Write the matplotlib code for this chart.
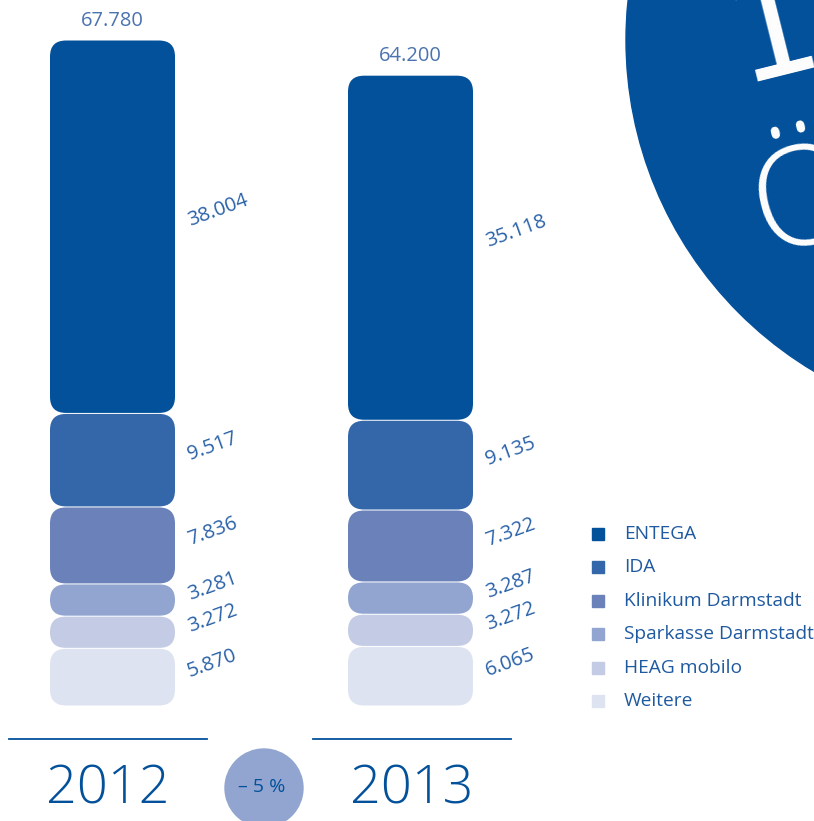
import matplotlib
matplotlib.use("Agg")
import matplotlib.pyplot as plt
from matplotlib.patches import FancyBboxPatch, Circle, Rectangle

# Stacked totals per year, bottom segment first
YEARS = ["2012", "2013"]
TOTALS = ["67.780", "64.200"]
CATEGORIES = ["Weitere", "HEAG mobilo", "Sparkasse Darmstadt",
              "Klinikum Darmstadt", "IDA", "ENTEGA"]
VALUES_2012 = [5870, 3272, 3281, 7836, 9517, 38004]
VALUES_2013 = [6065, 3272, 3287, 7322, 9135, 35118]
LABELS_2012 = ["5.870", "3.272", "3.281", "7.836", "9.517", "38.004"]
LABELS_2013 = ["6.065", "3.272", "3.287", "7.322", "9.135", "35.118"]
CHANGE = "– 5 %"

COLORS = ["#DEE3F1", "#C4CBE4", "#91A5D0", "#6A81BA", "#3367AA", "#03519B"]
DARK = "#03519B"
LABEL_C = "#2A62A8"
FONT = "Open Sans"

W, H = 814, 821
fig = plt.figure(figsize=(W / 100, H / 100), dpi=100)

# pixel-space overlay for decorations
deco = fig.add_axes([0, 0, 1, 1])
deco.set_xlim(0, W)
deco.set_ylim(H, 0)
deco.axis("off")

# big circle at upper right with white lettering
deco.add_patch(Circle((1012, 40), 386, color=DARK, zorder=1))
deco.text(741, 82, "1", color="white", fontsize=100, family="DejaVu Sans",
          rotation=14, rotation_mode="anchor", ha="left", va="baseline", zorder=2)
deco.text(764, 254, "Ö", color="white", fontsize=100, family=FONT, fontweight="light",
          rotation=14, rotation_mode="anchor", ha="left", va="baseline", zorder=2)

# data axes: x = bar index, y = value
ax = fig.add_axes([0, 0, 1, 1])
ax.patch.set_alpha(0)
ax.axis("off")
x_step = 298.0
px_per_unit = 666.0 / 67780
ax.set_xlim(-112.5 / x_step, (W - 112.5) / x_step)
ax.set_ylim(-(H - 706) / px_per_unit, 67780 + 40 / px_per_unit)

bar_w = 125 / x_step
gap = 1.0 / px_per_unit
aspect = (1 / px_per_unit) / (1 / x_step)

for i, (vals, labs, tot) in enumerate([(VALUES_2012, LABELS_2012, TOTALS[0]),
                                       (VALUES_2013, LABELS_2013, TOTALS[1])]):
    bottom = 0
    for v, lab, c in zip(vals, labs, COLORS):
        h = v - gap
        rad_px = min(16, v * px_per_unit / 2 - 0.6)
        ax.add_patch(FancyBboxPatch(
            (i - bar_w / 2, bottom + gap / 2), bar_w, h,
            boxstyle=f"round,pad=0,rounding_size={rad_px / x_step}",
            mutation_aspect=aspect, facecolor=c, edgecolor="none", zorder=3))
        ax.text(i + bar_w / 2 + 13 / x_step, bottom + v / 2 + 5 / px_per_unit, lab,
                rotation=20, rotation_mode="anchor", ha="left", va="center",
                fontsize=14.5, color=LABEL_C, family=FONT, zorder=4)
        bottom += v
    ax.text(i, bottom + 9 / px_per_unit, tot, ha="center", va="bottom",
            fontsize=14.5, color="#4A73B0", family=FONT, zorder=4)

# legend
for k, (name, c) in enumerate(zip(CATEGORIES[::-1], COLORS[::-1])):
    y = 534 + k * 33.4
    deco.add_patch(Rectangle((592, y - 6), 12, 12, color=c, zorder=2))
    deco.text(624, y, name, ha="left", va="center", fontsize=13.8,
              color="#1F5AA0", family=FONT)

# year labels with rules and change badge
for i, yr in enumerate(YEARS):
    cx = 108 + i * 304
    deco.plot([cx - 99, cx + 99], [739, 739], color=DARK, lw=1.3)
    deco.text(cx, 790, yr, ha="center", va="center", fontsize=39,
              color=DARK, family=FONT, fontweight="light")

deco.add_patch(Circle((264, 788), 39, color="#91A5D0", zorder=2))
deco.text(262, 787, CHANGE, ha="center", va="center", fontsize=14,
          color=DARK, family=FONT, zorder=3)

fig.savefig("out.png", dpi=100)
